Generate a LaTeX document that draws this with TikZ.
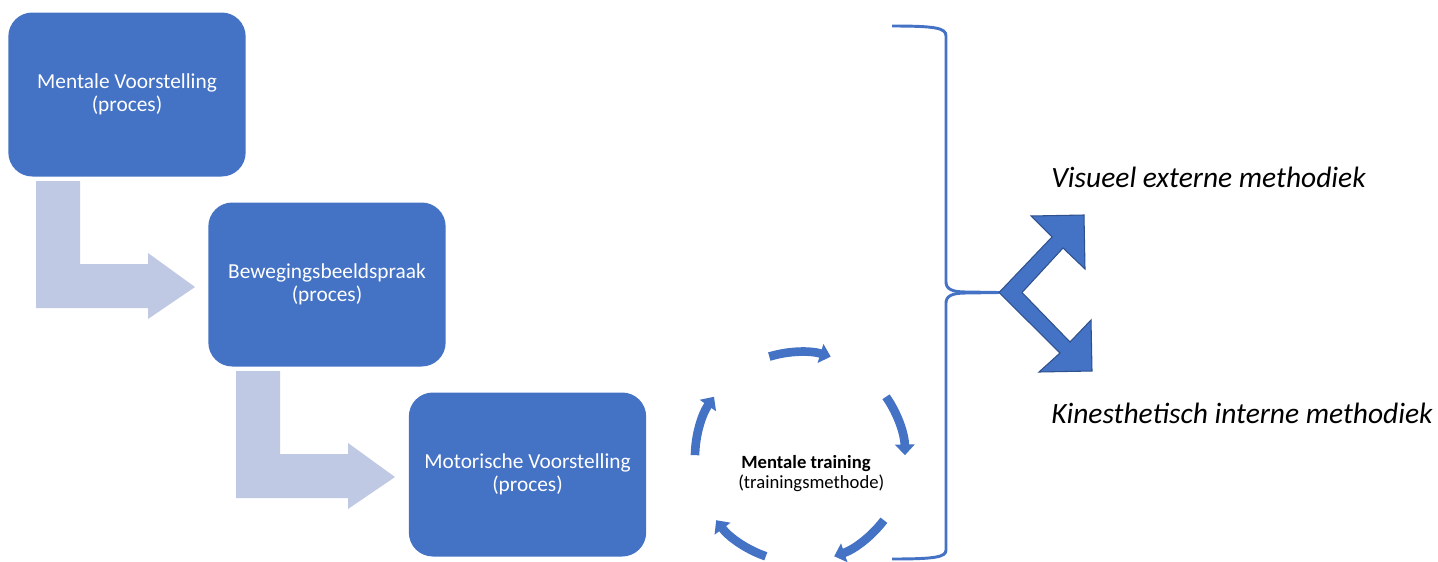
\documentclass[tikz,border=0pt]{standalone}
\usepackage{fontspec}
\setmainfont{Carlito}
\usetikzlibrary{arrows.meta}
\definecolor{boxblue}{HTML}{4472C4}
\definecolor{paleblue}{HTML}{C0C9E4}
\definecolor{darkblue}{HTML}{2F528F}

\begin{document}
\begin{tikzpicture}[x=0.75pt,y=-0.75pt,
  proces/.style={fill=boxblue,rounded corners=18pt,minimum width=178pt,minimum height=123pt,
    text=white,align=center,font=\fontsize{16}{17}\selectfont},
  paleL/.style={fill=paleblue},
  cyc/.style={draw=boxblue,line width=6.5pt,-{Triangle[width=14.5pt,length=8pt]}},
  methode/.style={anchor=west,inner sep=0pt,font=\fontsize{22.1}{24}\selectfont\itshape}]
\useasboundingbox (0,0) rectangle (1438,561);
% bent arrows behind the boxes
\foreach \s in {0,1}
  \fill[paleL,shift={(200*\s,190*\s)}] (36,181) -- (80,181) -- (80,264) -- (148,264) -- (148,253)
    -- (195,287) -- (148,319) -- (148,308) -- (36,308) -- cycle;
\node[proces] (MV) at (127,94.5) {Mentale Voorstelling\\(proces)};
\node[proces] (BB) at (327,284.5) {Bewegingsbeeldspraak\\(proces)};
\node[proces] (MoV) at (527.5,474.5) {Motorische Voorstelling\\(proces)};
% cycle
\coordinate (ctr) at (800,457);
\foreach \b in {-90,-18,54,126,198}
  \draw[cyc] (ctr) ++(\b-17:105) arc[start angle=\b-17,end angle=\b+17,radius=105];
\node[align=center,font=\fontsize{14}{15}\selectfont] (MT) at (806,474)
  {\textbf{Mentale training}\\\hspace*{8pt}(trainingsmethode)};
% brace
\coordinate (tip) at (999,292.5);
\draw[boxblue,line width=2.2pt] (892,26) .. controls (936,26) and (946,28) .. (946,36) -- (946,282)
  .. controls (946,289) and (952,292) .. (966,292) -- (tip);
\draw[boxblue,line width=2.2pt] (tip) -- (966,293) .. controls (952,293) and (946,296) .. (946,303)
  -- (946,550) .. controls (946,557) and (936,559) .. (892,559);
% split arrow
\filldraw[fill=boxblue,draw=darkblue,line width=0.8pt] (tip) -- (1052,237) -- (1031,216) -- (1084,215)
  -- (1085,269) -- (1063,248) -- (1022,292.5) -- (1070,342) -- (1091,320) -- (1092,371)
  -- (1039,372) -- (1060,353) -- cycle;
\node[methode] (VE) at (1051,177) {Visueel externe methodiek};
\node[methode] (KI) at (1051,413) {Kinesthetisch interne methodiek};
\end{tikzpicture}
\end{document}
